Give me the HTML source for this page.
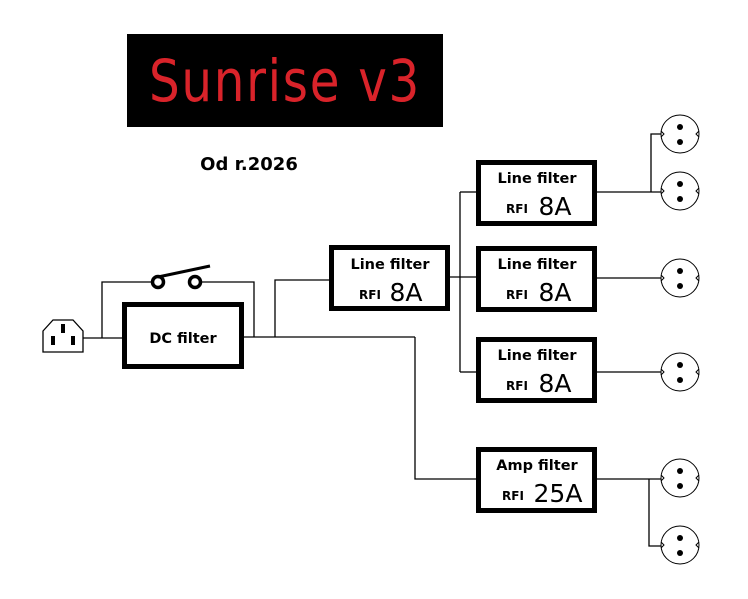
<!DOCTYPE html>
<html><head><meta charset="utf-8"><style>
html,body{margin:0;padding:0;background:#fff;}
svg{display:block;}
text{font-family:"DejaVu Sans","Liberation Sans",sans-serif;}
</style></head><body>
<svg width="748" height="599" viewBox="0 0 748 599" xmlns="http://www.w3.org/2000/svg">
<rect x="127" y="34" width="316" height="93" fill="#000"/>
<text x="285" y="101" text-anchor="middle" font-size="58" fill="#d9232a" style="font-weight:normal;letter-spacing:2px" textLength="272" lengthAdjust="spacingAndGlyphs">Sunrise v3</text>
<text x="249" y="170" text-anchor="middle" font-size="18" font-weight="bold" fill="#000">Od r.2026</text>
<g stroke="#000" stroke-width="1.3" fill="none">
<path d="M43,331 L53,320 L73,320 L83,331 L83,352 L43,352 Z"/>
<line x1="83" y1="338" x2="122" y2="338"/>
<polyline points="102,338 102,282 152,282"/>
<polyline points="201,282 254,282 254,337"/>
<line x1="244" y1="337" x2="415" y2="337"/>
<polyline points="275,337 275,280 329,280"/>
<polyline points="415,337 415,479 476,479"/>
<line x1="450" y1="277" x2="476" y2="277"/>
<line x1="460" y1="192" x2="460" y2="372"/>
<line x1="460" y1="192" x2="476" y2="192"/>
<line x1="460" y1="372" x2="476" y2="372"/>
<line x1="597" y1="192" x2="661" y2="192"/>
<polyline points="661,134 651,134 651,192"/>
<line x1="597" y1="278" x2="661" y2="278"/>
<line x1="597" y1="372" x2="661" y2="372"/>
<line x1="597" y1="479" x2="661" y2="479"/>
<polyline points="649,479 649,546 661,546"/>
</g>
<g stroke="#000" stroke-width="3" fill="none">
<line x1="158" y1="277" x2="210" y2="266"/>
<circle cx="158" cy="282" r="5.5" stroke-width="3.5"/>
<circle cx="195" cy="282" r="5.5" stroke-width="3.5"/>
</g>
<g fill="#000">
<rect x="51" y="336" width="4" height="9"/>
<rect x="61" y="324" width="4" height="9"/>
<rect x="71" y="336" width="4" height="9"/>
</g>
<g stroke="#000" stroke-width="5" fill="#fff">
<rect x="124.5" y="304.5" width="117" height="62"/>
<rect x="331.5" y="247.5" width="116" height="61"/>
<rect x="478.5" y="162.5" width="116" height="61"/>
<rect x="478.5" y="248.5" width="116" height="61"/>
<rect x="478.5" y="339.5" width="116" height="61"/>
<rect x="478.5" y="449.5" width="116" height="61"/>
</g>
<text x="183" y="343" text-anchor="middle" font-size="14.5" font-weight="bold">DC filter</text>
<g font-weight="bold">
<text x="390" y="269" text-anchor="middle" font-size="14.5">Line filter</text>
<text x="370" y="299" text-anchor="middle" font-size="12">RFI</text>
<text x="406" y="301" text-anchor="middle" font-size="25" font-weight="normal">8A</text>
<text x="537" y="183" text-anchor="middle" font-size="14.5">Line filter</text>
<text x="517" y="213" text-anchor="middle" font-size="12">RFI</text>
<text x="555" y="215" text-anchor="middle" font-size="25" font-weight="normal">8A</text>
<text x="537" y="269" text-anchor="middle" font-size="14.5">Line filter</text>
<text x="517" y="299" text-anchor="middle" font-size="12">RFI</text>
<text x="555" y="301" text-anchor="middle" font-size="25" font-weight="normal">8A</text>
<text x="537" y="360" text-anchor="middle" font-size="14.5">Line filter</text>
<text x="517" y="390" text-anchor="middle" font-size="12">RFI</text>
<text x="555" y="392" text-anchor="middle" font-size="25" font-weight="normal">8A</text>
<text x="537" y="470" text-anchor="middle" font-size="14.5">Amp filter</text>
<text x="513" y="500" text-anchor="middle" font-size="12">RFI</text>
<text x="558" y="502" text-anchor="middle" font-size="25" font-weight="normal">25A</text>
</g>
<g>
<g transform="translate(680,134)"><circle r="19" fill="#fff" stroke="#000"/><circle cy="-7" r="3"/><circle cy="8" r="3"/><path d="M-19,-3 L-16,0 L-19,3 M19,-3 L16,0 L19,3" stroke="#000" fill="none"/></g>
<g transform="translate(680,191)"><circle r="19" fill="#fff" stroke="#000"/><circle cy="-7" r="3"/><circle cy="8" r="3"/><path d="M-19,-3 L-16,0 L-19,3 M19,-3 L16,0 L19,3" stroke="#000" fill="none"/></g>
<g transform="translate(680,278)"><circle r="19" fill="#fff" stroke="#000"/><circle cy="-7" r="3"/><circle cy="8" r="3"/><path d="M-19,-3 L-16,0 L-19,3 M19,-3 L16,0 L19,3" stroke="#000" fill="none"/></g>
<g transform="translate(680,372)"><circle r="19" fill="#fff" stroke="#000"/><circle cy="-7" r="3"/><circle cy="8" r="3"/><path d="M-19,-3 L-16,0 L-19,3 M19,-3 L16,0 L19,3" stroke="#000" fill="none"/></g>
<g transform="translate(680,478)"><circle r="19" fill="#fff" stroke="#000"/><circle cy="-7" r="3"/><circle cy="8" r="3"/><path d="M-19,-3 L-16,0 L-19,3 M19,-3 L16,0 L19,3" stroke="#000" fill="none"/></g>
<g transform="translate(680,545)"><circle r="19" fill="#fff" stroke="#000"/><circle cy="-7" r="3"/><circle cy="8" r="3"/><path d="M-19,-3 L-16,0 L-19,3 M19,-3 L16,0 L19,3" stroke="#000" fill="none"/></g>
</g>
</svg>
</body></html>
